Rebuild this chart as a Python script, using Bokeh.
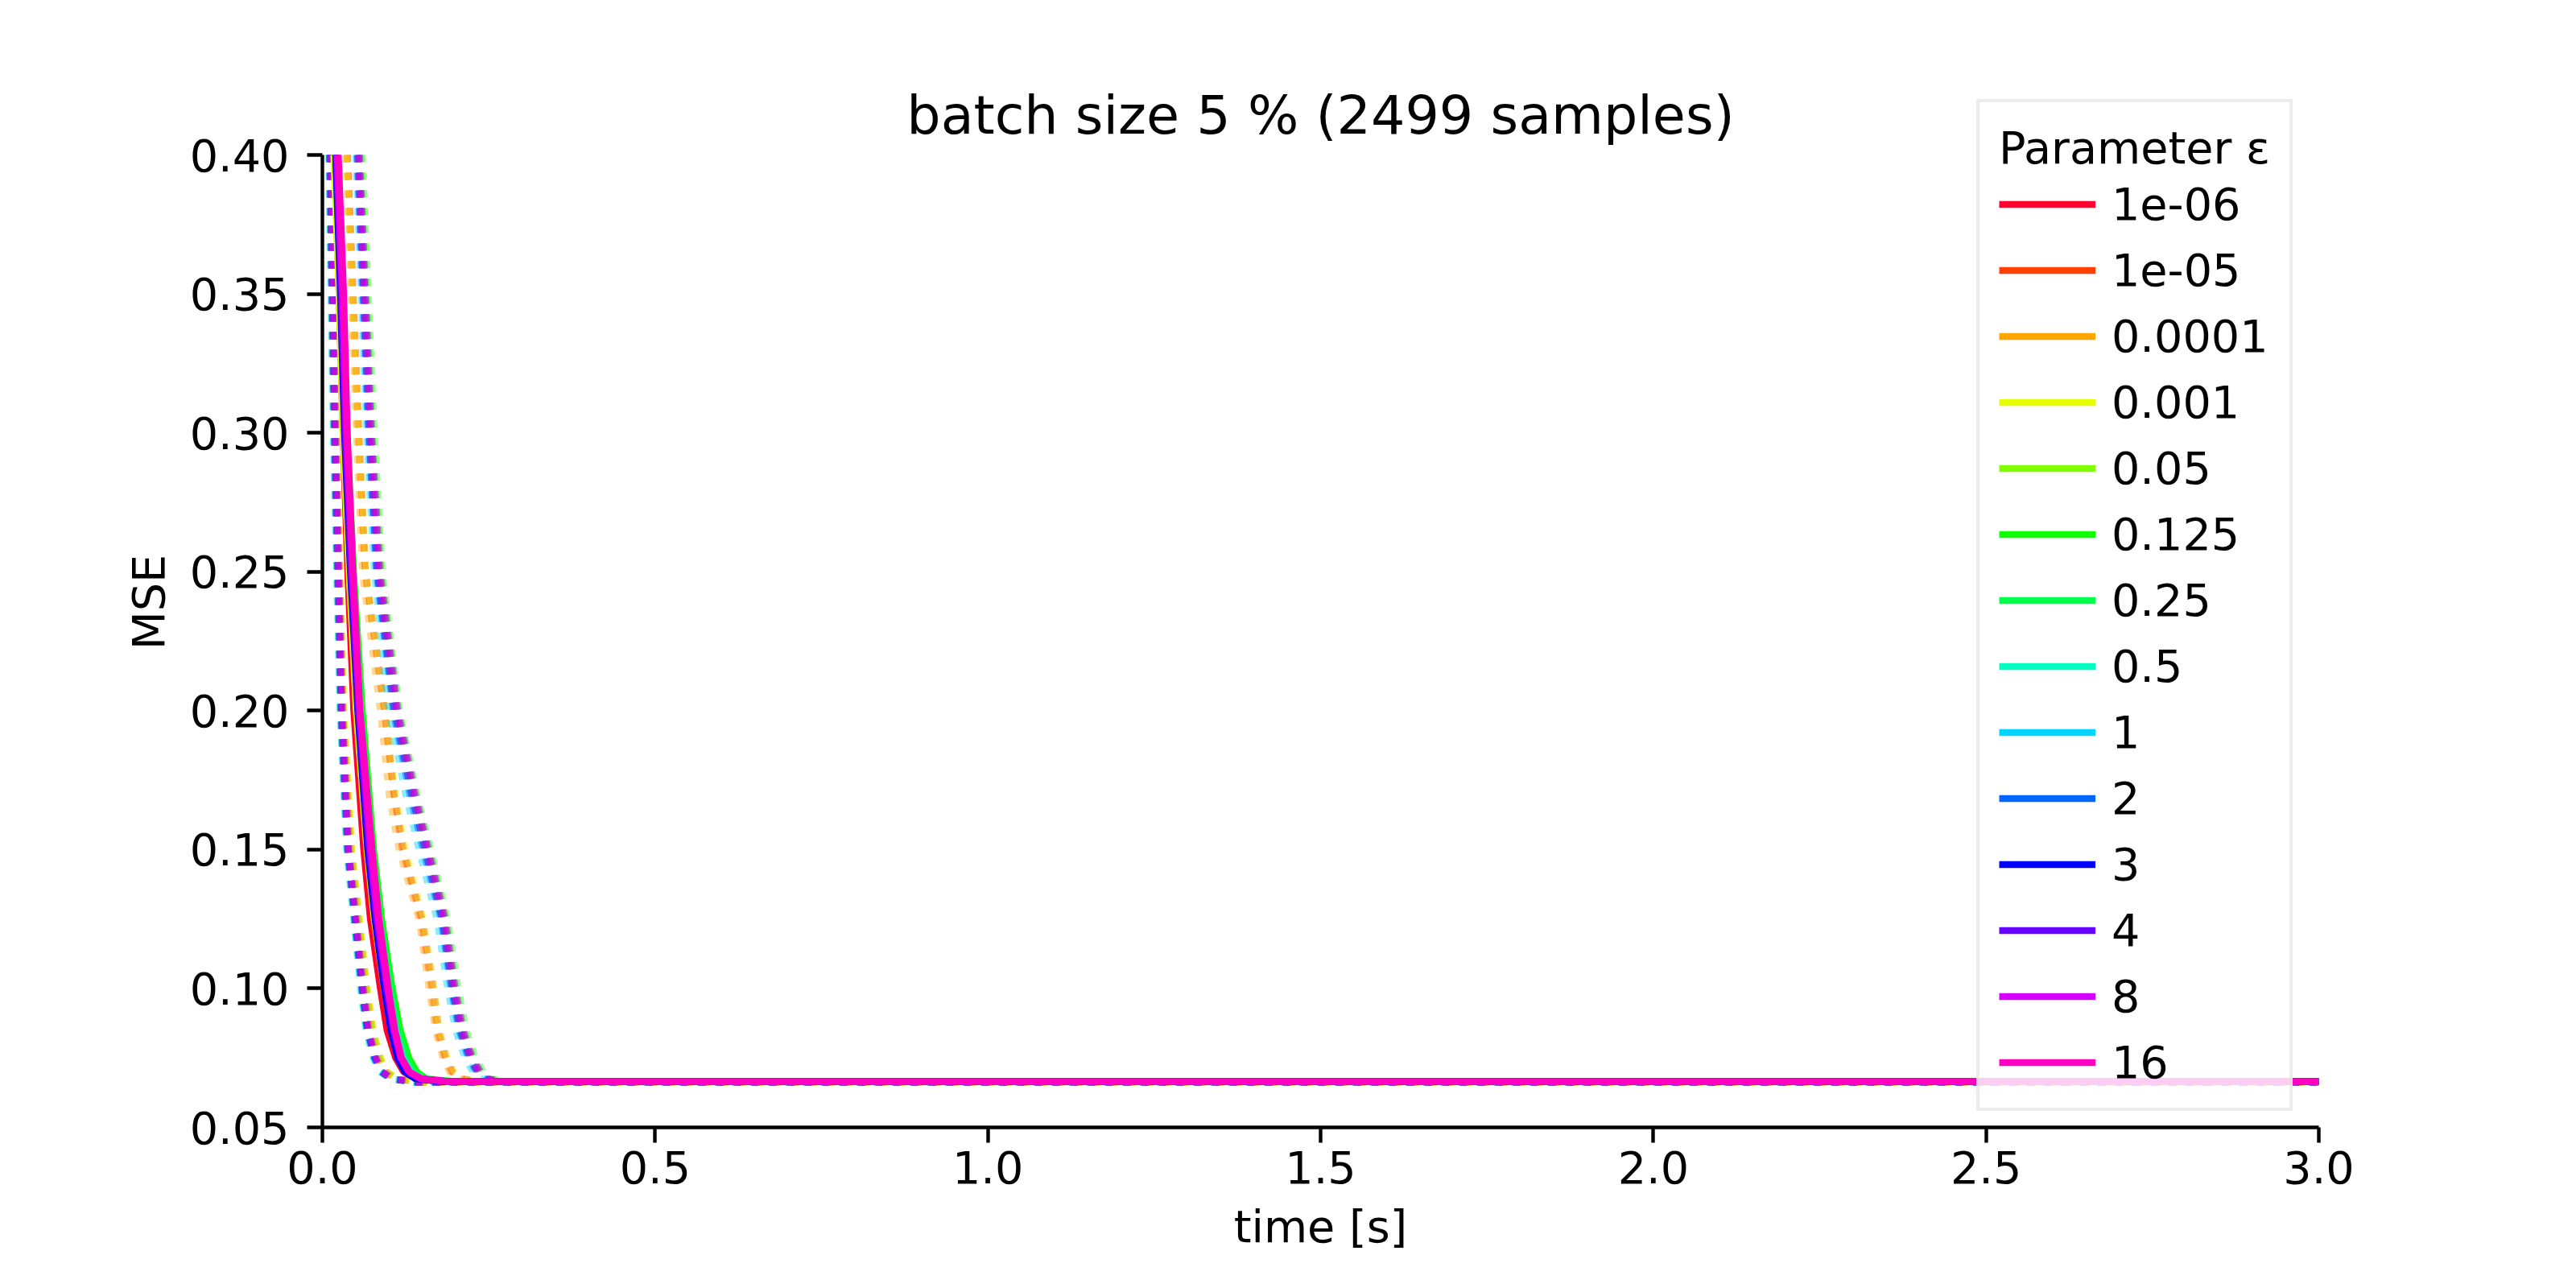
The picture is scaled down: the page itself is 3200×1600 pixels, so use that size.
from bokeh.plotting import figure
from bokeh.models import Legend, LegendItem, FixedTicker, NumeralTickFormatter, Label
from bokeh.embed import file_html
from bokeh.resources import INLINE

# ---------------- data ----------------
EPSILONS = ["1e-06", "1e-05", "0.0001", "0.001", "0.05", "0.125", "0.25",
            "0.5", "1", "2", "3", "4", "8", "16"]
COLORS = ["#ff0030", "#ff4000", "#ffa500", "#e6ff00", "#80ff00", "#10ff00",
          "#00ff4c", "#00ffc0", "#00d4ff", "#0066ff", "#0000ff", "#6600ff",
          "#d400ff", "#ff00c0"]

# MSE values at which the solid curves were read
SOLID_MSE = [0.40, 0.35, 0.30, 0.25, 0.20, 0.15, 0.125, 0.10, 0.085,
             0.075, 0.070, 0.0675, 0.0665, 0.0665]
# time [s] of each solid curve at these MSE values
SOLID_T = [
    [0.018, 0.025, 0.031, 0.038, 0.047, 0.062, 0.072, 0.087, 0.097, 0.110, 0.122, 0.140, 0.180, 3.0],
    [0.019, 0.026, 0.032, 0.040, 0.050, 0.066, 0.077, 0.092, 0.103, 0.114, 0.126, 0.143, 0.185, 3.0],
    [0.018, 0.026, 0.032, 0.041, 0.051, 0.067, 0.078, 0.093, 0.104, 0.115, 0.127, 0.144, 0.185, 3.0],
    [0.017, 0.025, 0.031, 0.040, 0.051, 0.067, 0.078, 0.094, 0.105, 0.116, 0.128, 0.145, 0.185, 3.0],
    [0.019, 0.027, 0.034, 0.043, 0.055, 0.071, 0.082, 0.097, 0.108, 0.120, 0.133, 0.150, 0.190, 3.0],
    [0.022, 0.030, 0.037, 0.047, 0.060, 0.077, 0.089, 0.105, 0.117, 0.130, 0.142, 0.156, 0.200, 3.0],
    [0.021, 0.029, 0.036, 0.046, 0.058, 0.075, 0.087, 0.103, 0.114, 0.126, 0.138, 0.153, 0.195, 3.0],
    [0.020, 0.028, 0.035, 0.044, 0.056, 0.072, 0.083, 0.099, 0.110, 0.121, 0.133, 0.150, 0.190, 3.0],
    [0.020, 0.028, 0.034, 0.043, 0.054, 0.070, 0.081, 0.097, 0.107, 0.118, 0.130, 0.147, 0.190, 3.0],
    [0.020, 0.028, 0.034, 0.043, 0.054, 0.070, 0.081, 0.096, 0.106, 0.116, 0.128, 0.145, 0.185, 3.0],
    [0.020, 0.027, 0.033, 0.042, 0.053, 0.068, 0.079, 0.093, 0.103, 0.113, 0.124, 0.140, 0.180, 3.0],
    [0.021, 0.028, 0.034, 0.043, 0.054, 0.070, 0.081, 0.096, 0.106, 0.117, 0.129, 0.146, 0.190, 3.0],
    [0.022, 0.030, 0.036, 0.045, 0.056, 0.072, 0.083, 0.098, 0.108, 0.118, 0.130, 0.148, 0.190, 3.0],
    [0.024, 0.032, 0.0375, 0.046, 0.0565, 0.0746, 0.085, 0.099, 0.109, 0.119, 0.131, 0.149, 0.190, 3.0],
]

# fast dotted bundle
FAST_MSE = [0.40, 0.30, 0.20, 0.15, 0.10, 0.085, 0.075, 0.070, 0.0675, 0.0663, 0.0663]
FAST_T = [
    [0.014, 0.021, 0.031, 0.042, 0.064, 0.073, 0.084, 0.094, 0.110, 0.145, 3.0],
    [0.013, 0.020, 0.031, 0.043, 0.066, 0.075, 0.086, 0.096, 0.112, 0.150, 3.0],
    [0.014, 0.021, 0.032, 0.044, 0.067, 0.076, 0.087, 0.097, 0.113, 0.150, 3.0],
    [0.015, 0.022, 0.033, 0.045, 0.068, 0.077, 0.088, 0.098, 0.114, 0.150, 3.0],
    [0.013, 0.020, 0.031, 0.042, 0.065, 0.074, 0.085, 0.095, 0.110, 0.145, 3.0],
    [0.010, 0.017, 0.027, 0.037, 0.059, 0.067, 0.078, 0.088, 0.103, 0.140, 3.0],
    [0.011, 0.018, 0.028, 0.038, 0.060, 0.068, 0.079, 0.089, 0.104, 0.140, 3.0],
    [0.009, 0.016, 0.026, 0.036, 0.057, 0.065, 0.076, 0.086, 0.101, 0.135, 3.0],
    [0.010, 0.017, 0.027, 0.037, 0.058, 0.066, 0.077, 0.087, 0.102, 0.135, 3.0],
    [0.011, 0.018, 0.028, 0.038, 0.059, 0.067, 0.078, 0.088, 0.103, 0.140, 3.0],
    [0.012, 0.019, 0.029, 0.039, 0.060, 0.068, 0.079, 0.089, 0.104, 0.140, 3.0],
    [0.011, 0.018, 0.028, 0.038, 0.060, 0.068, 0.079, 0.089, 0.104, 0.140, 3.0],
    [0.012, 0.019, 0.029, 0.039, 0.061, 0.069, 0.080, 0.090, 0.105, 0.140, 3.0],
    [0.013, 0.020, 0.030, 0.040, 0.062, 0.070, 0.081, 0.091, 0.106, 0.145, 3.0],
]

# slow dotted bundle
SLOW_MSE = [0.40, 0.30, 0.25, 0.20, 0.17, 0.15, 0.125, 0.10, 0.085,
            0.075, 0.070, 0.0675, 0.0665, 0.0665]
SLOW_T = [
    [0.038, 0.055, 0.065, 0.094, 0.108, 0.122, 0.150, 0.167, 0.175, 0.186, 0.196, 0.210, 0.240, 3.0],
    [0.037, 0.054, 0.064, 0.093, 0.107, 0.120, 0.148, 0.164, 0.172, 0.184, 0.194, 0.208, 0.240, 3.0],
    [0.035, 0.051, 0.060, 0.087, 0.100, 0.115, 0.145, 0.160, 0.170, 0.181, 0.191, 0.205, 0.235, 3.0],
    [0.037, 0.055, 0.066, 0.095, 0.110, 0.125, 0.152, 0.168, 0.176, 0.188, 0.198, 0.212, 0.240, 3.0],
    [0.058, 0.075, 0.088, 0.113, 0.138, 0.160, 0.185, 0.200, 0.212, 0.226, 0.238, 0.250, 0.270, 3.0],
    [0.060, 0.078, 0.090, 0.116, 0.142, 0.163, 0.188, 0.204, 0.216, 0.230, 0.242, 0.255, 0.275, 3.0],
    [0.056, 0.074, 0.086, 0.112, 0.137, 0.158, 0.183, 0.198, 0.210, 0.224, 0.236, 0.248, 0.270, 3.0],
    [0.054, 0.072, 0.084, 0.110, 0.134, 0.155, 0.180, 0.195, 0.207, 0.221, 0.233, 0.245, 0.265, 3.0],
    [0.050, 0.066, 0.078, 0.100, 0.125, 0.145, 0.172, 0.188, 0.200, 0.214, 0.226, 0.238, 0.260, 3.0],
    [0.052, 0.069, 0.081, 0.106, 0.131, 0.151, 0.178, 0.193, 0.205, 0.219, 0.231, 0.243, 0.265, 3.0],
    [0.053, 0.070, 0.082, 0.108, 0.134, 0.154, 0.180, 0.195, 0.207, 0.221, 0.233, 0.245, 0.265, 3.0],
    [0.055, 0.073, 0.085, 0.112, 0.138, 0.158, 0.183, 0.198, 0.210, 0.224, 0.236, 0.248, 0.270, 3.0],
    [0.056, 0.074, 0.087, 0.114, 0.140, 0.160, 0.185, 0.200, 0.212, 0.226, 0.238, 0.250, 0.270, 3.0],
    [0.054, 0.072, 0.085, 0.111, 0.137, 0.157, 0.182, 0.197, 0.209, 0.223, 0.235, 0.247, 0.270, 3.0],
]

X_TICKS = [0.0, 0.5, 1.0, 1.5, 2.0, 2.5, 3.0]
Y_TICKS = [0.05, 0.10, 0.15, 0.20, 0.25, 0.30, 0.35, 0.40]
Y_MIN, Y_MAX = 0.05, 0.40

TITLE = "batch size 5 % (2499 samples)"
FONT = "DejaVu Sans"
FS = "55.6px"

# ---------------- layout ----------------
PX_PER_UNIT = 3451.4          # vertical scale of the reference axes
Y_TOP = Y_MIN + 1305 / PX_PER_UNIT   # frame extended above 0.40 for title/legend

p = figure(width=3184, height=1584, x_range=(0, 3.0), y_range=(Y_MIN, Y_TOP),
           output_backend="svg", toolbar_location=None,
           min_border_left=400, min_border_right=304,
           min_border_top=95, min_border_bottom=184)
p.outline_line_color = None
p.xgrid.visible = False
p.ygrid.visible = False
p.background_fill_color = "white"

p.xaxis.ticker = FixedTicker(ticks=X_TICKS)
p.yaxis.ticker = FixedTicker(ticks=Y_TICKS)
p.xaxis.formatter = NumeralTickFormatter(format="0.0")
p.yaxis.formatter = NumeralTickFormatter(format="0.00")
p.yaxis.bounds = (Y_MIN, Y_MAX)
p.xaxis.axis_label = "time [s]"
p.yaxis.axis_label = "MSE"
for ax in (p.xaxis, p.yaxis):
    ax.axis_line_width = 4.4
    ax.axis_line_color = "black"
    ax.major_tick_line_width = 4.4
    ax.major_tick_line_color = "black"
    ax.major_tick_out = 19
    ax.major_tick_in = 0
    ax.minor_tick_line_color = None
    ax.major_label_text_font = FONT
    ax.major_label_text_font_size = FS
    ax.major_label_text_color = "black"
    ax.axis_label_text_font = FONT
    ax.axis_label_text_font_size = FS
    ax.axis_label_text_font_style = "normal"
    ax.axis_label_text_color = "black"
p.xaxis.major_label_standoff = 10
p.xaxis.axis_label_standoff = 18
p.yaxis.major_label_standoff = 22
p.yaxis.axis_label_standoff = 16

# title (drawn as a label so that it can sit beside the legend)
title = Label(x=1.5, y=Y_MIN + (1400 - 142) / PX_PER_UNIT, text=TITLE,
              text_align="center", text_baseline="alphabetic",
              text_font=FONT, text_font_size="66.7px", text_color="black")
p.add_layout(title)

LW = 8.3

# dotted bundles first
for t, c in zip(FAST_T, COLORS):
    p.line(t, FAST_MSE, line_color=c, line_width=LW, line_alpha=0.45,
           line_dash="9 13", line_cap="butt")
for t, c in zip(SLOW_T, COLORS):
    p.line(t, SLOW_MSE, line_color=c, line_width=LW, line_alpha=0.45,
           line_dash="9 13", line_cap="butt")

items = []
for t, c, lab in zip(SOLID_T, COLORS, EPSILONS):
    r = p.line(t, SOLID_MSE, line_color=c, line_width=LW)
    items.append(LegendItem(label=lab, renderers=[r]))

legend = Legend(items=items, location=(2055, 20),
                title="Parameter \u03b5",
                title_text_font=FONT, title_text_font_size=FS,
                title_text_font_style="normal", title_text_color="black",
                title_standoff=5,
                label_text_font=FONT, label_text_font_size=FS,
                label_text_color="black",
                glyph_width=120, glyph_height=55, label_height=55,
                label_standoff=20, spacing=17, padding=24, margin=0,
                border_line_color="#d9d9d9", border_line_width=4,
                background_fill_color="white", background_fill_alpha=0.8)
p.add_layout(legend)

open("out.html", "w").write(file_html(p, INLINE))
